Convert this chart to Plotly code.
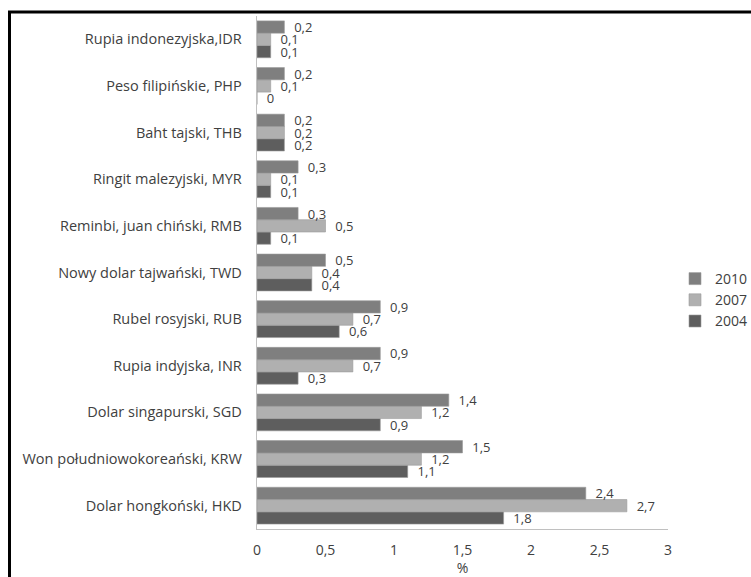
import plotly.graph_objects as go

# Currency categories, listed from the bottom of the chart upward
categories = [
    "Dolar hongkoński, HKD",
    "Won południowokoreański, KRW",
    "Dolar singapurski, SGD",
    "Rupia indyjska, INR",
    "Rubel rosyjski, RUB",
    "Nowy dolar tajwański, TWD",
    "Reminbi, juan chiński, RMB",
    "Ringit malezyjski, MYR",
    "Baht tajski, THB",
    "Peso filipińskie, PHP",
    "Rupia indonezyjska,IDR",
]

values_2004 = [1.8, 1.1, 0.9, 0.3, 0.6, 0.4, 0.1, 0.1, 0.2, 0.0, 0.1]
values_2007 = [2.7, 1.2, 1.2, 0.7, 0.7, 0.4, 0.5, 0.1, 0.2, 0.1, 0.1]
values_2010 = [2.4, 1.5, 1.4, 0.9, 0.9, 0.5, 0.3, 0.3, 0.2, 0.2, 0.2]

x_ticks = [0, 0.5, 1, 1.5, 2, 2.5, 3]
x_tick_labels = ["0", "0,5", "1", "1,5", "2", "2,5", "3"]

W, H = 751, 577
ML, MR, MT, MB = 257, 83, 16, 48
FONT = "Open Sans, DejaVu Sans, sans-serif"
TEXT_COLOR = "#404040"


def pl(v):
    # decimal comma, as in Polish notation
    return ("%g" % v).replace(".", ",")


series = [
    ("2004", values_2004, "#5e5e5e"),
    ("2007", values_2007, "#b0b0b0"),
    ("2010", values_2010, "#7f7f7f"),
]

fig = go.Figure()
for name, vals, color in series:
    fig.add_trace(go.Bar(
        name=name,
        y=categories,
        x=vals,
        orientation="h",
        marker=dict(color=color, line=dict(color="#9a9a9a", width=0.6)),
        text=["  " + pl(v) for v in vals],
        textposition="outside",
        constraintext="none",
        textfont=dict(family=FONT, size=13, color=TEXT_COLOR),
        cliponaxis=False,
    ))

# frame lines along the top and the left edge
pw = W - ML - MR
ph = H - MT - MB
def px_x(px):
    return (px - ML) / pw
def px_y(py):
    return (H - MB - py) / ph

fig.add_shape(type="line", xref="paper", yref="paper",
              x0=px_x(8), x1=px_x(W + 5), y0=px_y(12), y1=px_y(12),
              line=dict(color="black", width=3))
fig.add_shape(type="line", xref="paper", yref="paper",
              x0=px_x(9.5), x1=px_x(9.5), y0=px_y(11), y1=px_y(H + 5),
              line=dict(color="black", width=3))

fig.update_layout(
    width=W, height=H,
    margin=dict(l=ML, r=MR, t=MT, b=MB, autoexpand=False),
    paper_bgcolor="white",
    plot_bgcolor="white",
    barmode="group",
    bargap=0.21,
    bargroupgap=0,
    font=dict(family=FONT, size=14, color=TEXT_COLOR),
    showlegend=True,
    legend=dict(
        traceorder="reversed",
        x=px_x(675), xanchor="left",
        y=px_y(300), yanchor="middle",
        font=dict(family=FONT, size=14, color=TEXT_COLOR),
        itemwidth=30,
        tracegroupgap=6,
    ),
    xaxis=dict(
        range=[0, 3],
        tickvals=x_ticks,
        ticktext=x_tick_labels,
        showgrid=False,
        zeroline=False,
        showline=True,
        linecolor="#c0c0c0",
        linewidth=1,
        ticks="",
        ticklen=0,
        ticklabelstandoff=8,
        title=dict(text="%", standoff=4, font=dict(family=FONT, size=14, color=TEXT_COLOR)),
        tickfont=dict(family=FONT, size=14, color=TEXT_COLOR),
    ),
    yaxis=dict(
        showgrid=False,
        showline=True,
        linecolor="#c0c0c0",
        linewidth=1,
        ticks="",
        ticksuffix="   ",
        tickfont=dict(family=FONT, size=14.5, color=TEXT_COLOR),
    ),
)

fig.write_html("out.html")
